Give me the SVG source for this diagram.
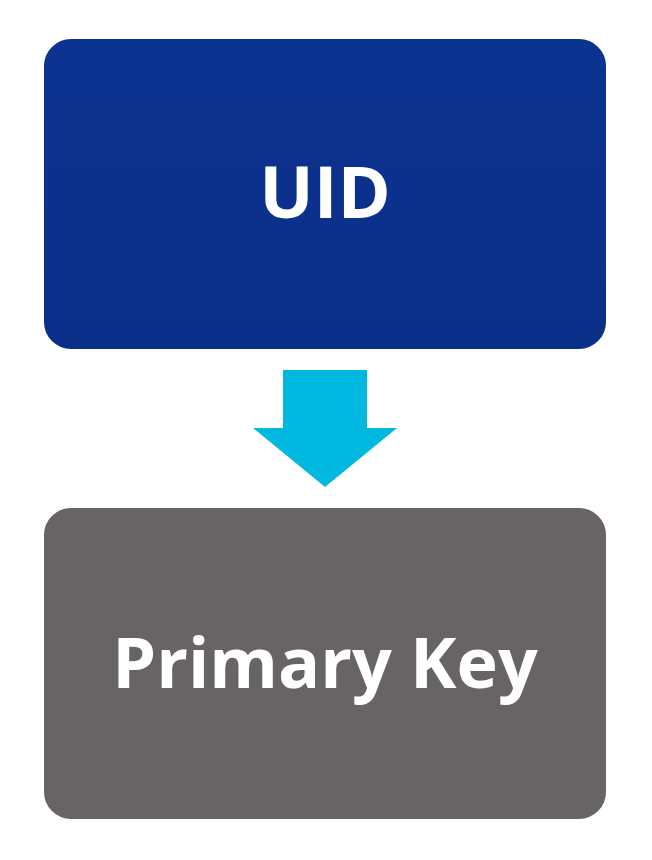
<svg xmlns="http://www.w3.org/2000/svg" width="652" height="860" viewBox="0 0 652 860">
<style>
.box{stroke:#ffffff;stroke-width:2}
.t{font-family:"Open Sans","Liberation Sans",sans-serif;font-weight:bold;fill:#ffffff;text-anchor:middle}
</style>
<defs>
<linearGradient id="g1" x1="0" y1="0" x2="0" y2="1"><stop offset="0" stop-color="#0c3390"/><stop offset="1" stop-color="#0a2f88"/></linearGradient>
</defs>
<rect width="652" height="860" fill="#ffffff"/>
<g id="uid">
<rect class="box" x="43" y="38" width="564" height="312" rx="28" fill="url(#g1)"/>
<text class="t" x="325" y="218" font-size="72">UID</text>
</g>
<g id="connectors">
<polygon points="283,370 367,370 367,428 397,428 325,487 253,428 283,428" fill="#00b8e0"/>
</g>
<g id="pk">
<rect class="box" x="43" y="507" width="564" height="313" rx="28" fill="#686365"/>
<text class="t" x="325" y="688" font-size="70">Primary Key</text>
</g>
</svg>
